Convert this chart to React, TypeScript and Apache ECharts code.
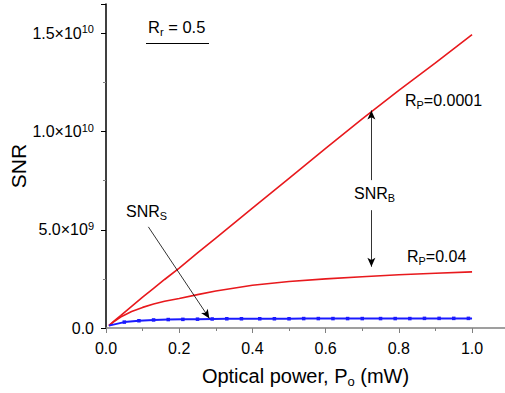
import React, { useEffect, useRef } from "react";
import * as echarts from "echarts";

// Optical power (mW) sample points
const powerA = [0.008, 0.02, 0.04, 0.07, 0.1, 0.13, 0.16, 0.2, 0.25, 0.3, 0.4, 0.5, 0.6, 0.7, 0.8, 0.9, 1.0];
// R_P = 0.0001 (near-linear)
const snrRp00001 = [0.12e9, 0.32e9, 0.63e9, 1.1e9, 1.57e9, 2.02e9, 2.47e9, 3.05e9, 3.82e9, 4.58e9, 6.1e9, 7.62e9, 9.15e9, 10.65e9, 12.1e9, 13.5e9, 14.94e9];
// R_P = 0.04 (saturating)
const snrRp004 = [0.12e9, 0.3e9, 0.56e9, 0.84e9, 1.05e9, 1.22e9, 1.36e9, 1.5e9, 1.7e9, 1.88e9, 2.18e9, 2.37e9, 2.5e9, 2.61e9, 2.71e9, 2.79e9, 2.86e9];
// SNR_S (blue)
const powerS = [0.008, 0.05, 0.09, 0.13, 0.17, 0.21, 0.25, 0.29, 0.33, 0.37, 0.42, 0.46, 0.5, 0.54, 0.58, 0.62, 0.66, 0.7, 0.75, 0.79, 0.83, 0.87, 0.91, 0.95, 0.99, 1.0];
const snrS = [0.12e9, 0.3e9, 0.37e9, 0.41e9, 0.43e9, 0.44e9, 0.45e9, 0.46e9, 0.47e9, 0.47e9, 0.47e9, 0.47e9, 0.47e9, 0.48e9, 0.48e9, 0.48e9, 0.48e9, 0.48e9, 0.48e9, 0.48e9, 0.48e9, 0.49e9, 0.49e9, 0.49e9, 0.49e9, 0.49e9];

const yTickLabels: Record<string, string> = {
  "0": "0.0",
  "5000000000": "{m|5.0×10}{s|9}",
  "10000000000": "{m|1.0×10}{s|10}",
  "15000000000": "{m|1.5×10}{s|10}",
};

const RED = "#e8191d";
const BLUE = "#1a1aff";
const FONT = "Liberation Sans, Arial, sans-serif";

export default function App() {
  const ref = useRef<HTMLDivElement>(null);
  useEffect(() => {
    if (!ref.current) return;
    const chart = echarts.init(ref.current, undefined, { renderer: "svg" });
    const zip = (xs: number[], ys: number[]) => xs.map((x, i) => [x, ys[i]]);
    const blueData = zip(powerS, snrS).map((p, i) =>
      i === 0 || i === powerS.length - 1 ? { value: p, symbol: "none" } : { value: p }
    );
    const sub = (base: string, s: string, rest: string, size: number) => ({
      text: `{a|${base}}{b|${s}}{a|${rest}}`,
      rich: {
        a: { fontSize: size, fontFamily: FONT, fill: "#000" },
        b: { fontSize: size * 0.68, fontFamily: FONT, fill: "#000", verticalAlign: "bottom", padding: [size * 0.6, 0, 0, 0] },
      },
    });
    chart.setOption({
      animation: false,
      grid: { left: 106, right: 0, top: 4, bottom: 65, containLabel: false, outerBoundsMode: "none" },
      xAxis: {
        type: "value",
        min: 0,
        max: 1.09,
        interval: 0.2,
        name: "{a|Optical power, P}{b|o}{a| (mW)}",
        nameLocation: "middle",
        nameGap: 35,
        nameMoveOverlap: false,
        nameTextStyle: {
          fontSize: 20,
          fontFamily: FONT,
          color: "#000",
          rich: {
            a: { fontSize: 20, fontFamily: FONT, color: "#000" },
            b: { fontSize: 13, fontFamily: FONT, color: "#000", verticalAlign: "bottom", padding: [12, 0, 0, 0] },
          },
        },
        axisLine: { lineStyle: { color: "#808080", width: 1.5 } },
        axisTick: { lineStyle: { color: "#808080" }, length: 5, inside: false },
        minorTick: { show: true, splitNumber: 2, length: 3, lineStyle: { color: "#808080" } },
        splitLine: { show: false },
        axisLabel: {
          fontSize: 16,
          fontFamily: FONT,
          color: "#000",
          margin: 12,
          formatter: (v: number) => {
            const r = Math.round(v * 10) / 10;
            return Math.abs(v - r) < 1e-6 && Math.round(r * 10) % 2 === 0 ? r.toFixed(1) : "";
          },
        },
      },
      yAxis: {
        type: "value",
        min: 0,
        max: 1.65e10,
        interval: 5e9,
        name: "SNR",
        nameLocation: "middle",
        nameGap: 77,
        nameMoveOverlap: false,
        nameRotate: 90,
        nameTextStyle: { fontSize: 21, fontFamily: FONT, color: "#000" },
        axisLine: { show: true, lineStyle: { color: "#000", width: 1.5 } },
        axisTick: { show: true, lineStyle: { color: "#000" }, length: 5 },
        minorTick: { show: true, splitNumber: 2, length: 3, lineStyle: { color: "#808080" } },
        splitLine: { show: false },
        axisLabel: {
          fontSize: 16,
          fontFamily: FONT,
          color: "#000",
          margin: 12,
          formatter: (v: number) => yTickLabels[String(v)] ?? "",
          rich: {
            m: { fontSize: 16, fontFamily: FONT, color: "#000" },
            s: { fontSize: 11, fontFamily: FONT, color: "#000", verticalAlign: "top", padding: [0, 0, 8, 0] },
          },
        },
      },
      series: [
        {
          type: "line",
          data: zip(powerA, snrRp00001),
          showSymbol: false,
          lineStyle: { color: RED, width: 1.6 },
          itemStyle: { color: RED },
          markLine: {
            silent: true,
            symbol: ["none", "arrow"],
            symbolSize: [6, 9],
            label: { show: false },
            lineStyle: { color: "#000", width: 0.8, type: "solid" },
            data: [
              [{ coord: [0.725, 7.53e9] }, { coord: [0.725, 1.108e10] }],
              [{ coord: [0.725, 6.0e9] }, { coord: [0.725, 3.12e9] }],
              [{ coord: [0.1157, 5.15e9] }, { coord: [0.2825, 0.49e9] }],
            ],
          },
        },
        {
          type: "line",
          data: zip(powerA, snrRp004),
          showSymbol: false,
          lineStyle: { color: RED, width: 1.6 },
          itemStyle: { color: RED },
        },
        {
          type: "line",
          data: blueData,
          symbol: "rect",
          symbolSize: 3.5,
          showSymbol: true,
          lineStyle: { color: BLUE, width: 2 },
          itemStyle: { color: BLUE },
        },
      ],
      graphic: [
        { type: "text", x: 148, y: 17, style: { ...sub("R", "r", " = 0.5", 16.5) } },
        { type: "line", shape: { x1: 146, y1: 43.5, x2: 209, y2: 43.5 }, style: { stroke: "#000", lineWidth: 1 } },
        { type: "text", x: 405, y: 90, style: { ...sub("R", "P", "=0.0001", 16) } },
        { type: "text", x: 354, y: 183, style: { ...sub("SNR", "B", "", 16) } },
        { type: "text", x: 407, y: 246, style: { ...sub("R", "P", "=0.04", 16) } },
        { type: "text", x: 126, y: 201, style: { ...sub("SNR", "S", "", 16) } },
      ],
    });
    return () => chart.dispose();
  }, []);
  return <div ref={ref} style={{ width: 505, height: 393, position: "absolute", left: 0, top: 0 }} />;
}
